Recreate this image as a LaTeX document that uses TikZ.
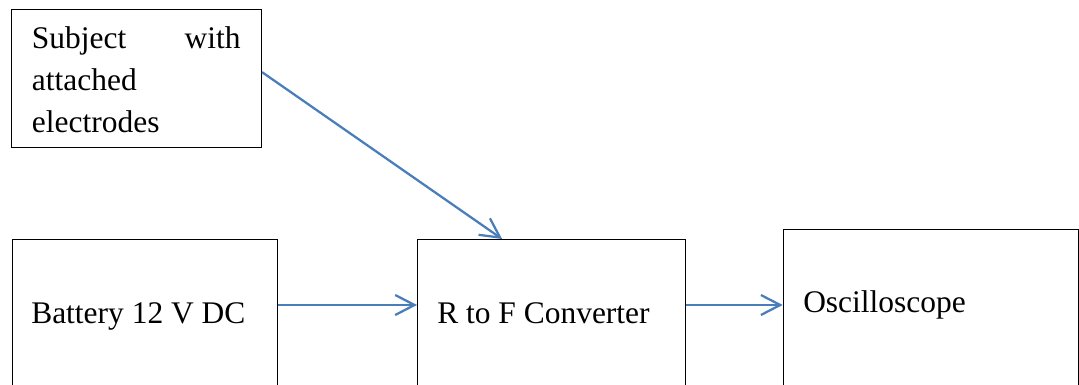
\documentclass[tikz,border=0pt]{standalone}
\usepackage{fontspec}
\setmainfont{Liberation Serif}
\usetikzlibrary{arrows.meta,calc}
\definecolor{linkblue}{HTML}{4A7EBB}
\tikzset{
  block/.style={draw=black, line width=0.8pt, rectangle, inner sep=0pt, anchor=north west},
  lbl/.style={anchor=base west, inner sep=0pt, font=\fontsize{23.6pt}{31.2pt}\selectfont},
  link/.style={draw=linkblue, line width=1.7pt,
    -{Straight Barb[length=14.5pt,width=15pt,line width=1.7pt]}},
}
\begin{document}
\begin{tikzpicture}[x=0.75pt,y=-0.75pt]
\useasboundingbox (0,0) rectangle (1079,385);
\clip (0,0) rectangle (1079,385);

% blocks (the lower ones run past the bottom edge)
\node[block, minimum width=187.5pt, minimum height=103.3pt] (subj) at (11,9) {};
\node[block, minimum width=198.75pt, minimum height=150pt] (bat) at (11.7,239) {};
\node[block, minimum width=201.3pt, minimum height=150pt] (rtf) at (417,239) {};
\node[block, minimum width=221.6pt, minimum height=150pt] (osc) at (782.7,229) {};

% block texts (first line set full width, as justified)
\node[lbl, text width=156.5pt, align=left] (subjtxt) at (31.7,49)
  {\makebox[156.5pt]{Subject\hfill with}\\attached\\electrodes};
\node[lbl] (battxt) at (31,323.7) {Battery 12 V DC};
\node[lbl] (rtftxt) at (437,323.7) {R to F Converter};
\node[lbl] (osctxt) at (803,312.5) {Oscilloscope};

% connectors
\coordinate (lvl) at (0,305);
\draw[link] ($(subj.north east)!0.455!(subj.south east)$) -- ($(rtf.north west)!0.316!(rtf.north east)$);
\draw[link] (bat.east |- lvl) -- (rtf.west |- lvl);
\draw[link] (rtf.east |- lvl) -- (osc.west |- lvl);
\end{tikzpicture}
\end{document}
